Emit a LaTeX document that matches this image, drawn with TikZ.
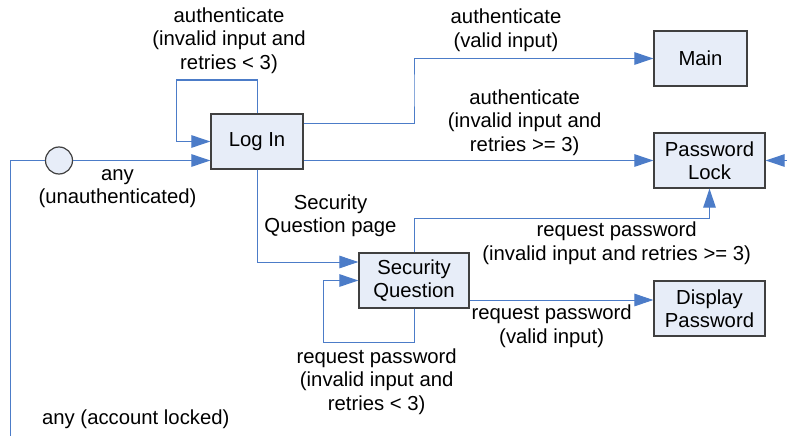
\documentclass[tikz,border=0pt]{standalone}
\usepackage{fontspec}
\setmainfont{Liberation Sans}
\usetikzlibrary{arrows.meta,calc}
\definecolor{flow}{RGB}{76,124,200}
\definecolor{boxfill}{RGB}{231,237,248}
\definecolor{boxline}{RGB}{64,64,64}
\tikzset{
  x=1pt,y=1pt,
  every node/.style={font=\fontsize{20.3}{23.5}\selectfont},
  state/.style={draw=boxline,line width=1.2pt,fill=boxfill,align=center,inner sep=0pt},
  lbl/.style={align=center,inner sep=0pt},
  flowline/.style={draw=flow,line width=1pt},
  flowarrow/.style={flowline,-{Triangle[length=19pt,width=12.5pt]}},
}
\begin{document}
\begin{tikzpicture}
\useasboundingbox (0,0) rectangle (787,-436);

% states
\node[state,minimum width=92pt,minimum height=55pt]  (login)  at (257,-141.5) {Log In};
\node[state,minimum width=93pt,minimum height=55pt]  (main)   at (700.5,-58.5) {Main};
\node[state,minimum width=111pt,minimum height=55pt] (pwlock) at (709.5,-160.5) {Password\\Lock};
\node[state,minimum width=110pt,minimum height=55pt] (sq)     at (414,-280.5) {Security\\Question};
\node[state,minimum width=111pt,minimum height=55pt] (dp)     at (709.5,-308.5) {Display\\Password};
\node[circle,draw=boxline,line width=1.2pt,fill=boxfill,minimum size=27pt,inner sep=0pt] (start) at (59,-160.5) {};

% bend points
\coordinate (bottomleft) at (10,-436);
\coordinate (loopA) at (176,-80);
\coordinate (kneeMain) at (414,-90);
\coordinate (loopB) at (323,-342.7);
\coordinate (kneeLock) at (709.5,-218.7);
\coordinate (rightin) at (787,-160.5);

% connectors
\draw[flowline] (bottomleft) |- (start.west);
\draw[flowarrow] (start.east) -- (start.east -| login.west);
\draw[flowarrow] (login.north) |- (loopA) |- (login.west);
\draw[flowarrow] ([yshift=18.2pt]login.east) -| (kneeMain) |- (main.west);
\draw[flowarrow] (login.east |- pwlock.west) -- (pwlock.west);
\draw[flowarrow] (login.south) |- ([yshift=18.5pt]sq.west);
\draw[flowarrow] (sq.south) |- (loopB) |- (sq.west);
\draw[flowarrow] (sq.north) |- (kneeLock) -- (pwlock.south);
\draw[flowarrow] ([yshift=-19.5pt]sq.east) coordinate (sqout) -- (sqout -| dp.west);
\draw[flowarrow] (rightin) -- (pwlock.east);

% transition labels
\node[lbl] (l1) at (229,-40.5) {authenticate\\(invalid input and\\retries < 3)};
\node[lbl] (l2) at (506,-30.5) {authenticate\\(valid input)};
\node[lbl] (l3) at (524.7,-122.5) {authenticate\\(invalid input and\\retries >= 3)};
\node[lbl] (l4) at (117.5,-188.5) {any\\(unauthenticated)};
\node[lbl] (l5) at (330.5,-215.5) {Security\\Question page};
\node[lbl] (l6) at (616.7,-243.3) {request password\\(invalid input and retries >= 3)};
\node[lbl] (l7) at (551.7,-326) {request password\\(valid input)};
\node[lbl] (l8) at (376.7,-381.5) {request password\\(invalid input and\\retries < 3)};
\node[lbl] (l9) at (135.8,-419.3) {any (account locked)};
\end{tikzpicture}
\end{document}
